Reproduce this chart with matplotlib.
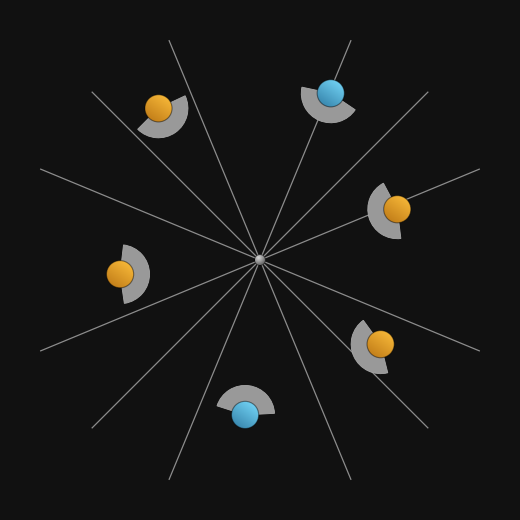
"""Radial spoke diagram: six balls with facing wedges around a hub."""

import matplotlib

matplotlib.use("Agg")

import matplotlib.pyplot as plt
import numpy as np
from matplotlib.colors import to_rgb
from matplotlib.patches import Circle, Wedge

# spokes (degrees, each drawn through the hub)
SPOKE_ANGLES = [22.5, 45.0, 67.5, 112.5, 135.0, 157.5]

# balls: polar position (angle in degrees, distance as fraction of spoke length)
BALL_ANGLE = [123.8, 67.0, 20.3, 185.8, -34.9, -95.5]
BALL_DIST = [0.767, 0.761, 0.615, 0.591, 0.618, 0.654]
BALL_KIND = ["orange", "blue", "orange", "orange", "orange", "blue"]

# wedge behind each ball: facing direction and angular span (degrees)
WEDGE_DIR = [-54.8, 247.0, 197.5, 0.8, 205.0, 82.6]
WEDGE_SPAN = [160.0, 158.0, 159.0, 165.0, 158.0, 159.0]

BG = "#111111"
SPOKE_LEN = 238.0
BALL_R = 13.6
WEDGE_R_IN = 13.0
WEDGE_R_OUT = 29.5
HUB_R = 5.5
PALETTE = {
    "orange": ("#c4801a", "#f6b738"),
    "blue": ("#3a89b0", "#70d0f2"),
}


def _sphere(ax, cx, cy, r, dark, light, light_dir=60.0, radial=False, z=4):
    n = 80
    xs = np.linspace(-1, 1, n)
    X, Y = np.meshgrid(xs, xs)
    if radial:
        hx, hy = -0.35, 0.35
        t = 1.0 - np.clip(np.hypot(X - hx, Y - hy) / 1.5, 0, 1)
    else:
        a = np.deg2rad(light_dir)
        t = np.clip((X * np.cos(a) + Y * np.sin(a) + 1) / 2, 0, 1)
    c0 = np.array(to_rgb(dark))
    c1 = np.array(to_rgb(light))
    img = c0[None, None, :] * (1 - t[..., None]) + c1[None, None, :] * t[..., None]
    im = ax.imshow(img, origin="lower", extent=(cx - r, cx + r, cy - r, cy + r),
                   interpolation="bilinear", zorder=z)
    clip = Circle((cx, cy), r, transform=ax.transData)
    im.set_clip_path(clip)
    ax.add_patch(Circle((cx, cy), r, fill=False, ec=(0, 0, 0, 0.45), lw=0.8, zorder=z + 0.1))


fig = plt.figure(figsize=(5.2, 5.2), dpi=100, facecolor=BG)
ax = fig.add_axes([0, 0, 1, 1])
ax.set_facecolor(BG)
ax.set_xlim(-260, 260)
ax.set_ylim(-260, 260)
ax.set_aspect("equal")
ax.axis("off")

for ang in SPOKE_ANGLES:
    a = np.deg2rad(ang)
    dx, dy = SPOKE_LEN * np.cos(a), SPOKE_LEN * np.sin(a)
    ax.plot([-dx, dx], [-dy, dy], color="#8c8c8c", lw=0.9, zorder=1,
            solid_capstyle="butt")

for ang, dist, kind, wdir, span in zip(BALL_ANGLE, BALL_DIST, BALL_KIND,
                                       WEDGE_DIR, WEDGE_SPAN):
    a = np.deg2rad(ang)
    cx, cy = dist * SPOKE_LEN * np.cos(a), dist * SPOKE_LEN * np.sin(a)
    ax.add_patch(Wedge((cx, cy), WEDGE_R_OUT, wdir - span / 2, wdir + span / 2,
                       width=WEDGE_R_OUT - WEDGE_R_IN, fc="#999999",
                       ec="#a8a8a8", lw=0.6, zorder=2))
    dark, light = PALETTE[kind]
    _sphere(ax, cx, cy, BALL_R, dark, light, light_dir=55.0, z=3)

_sphere(ax, 0, 0, HUB_R, "#5a5a5a", "#d8d8d8", radial=True, z=5)

fig.savefig("out.png", dpi=100, facecolor=BG)
